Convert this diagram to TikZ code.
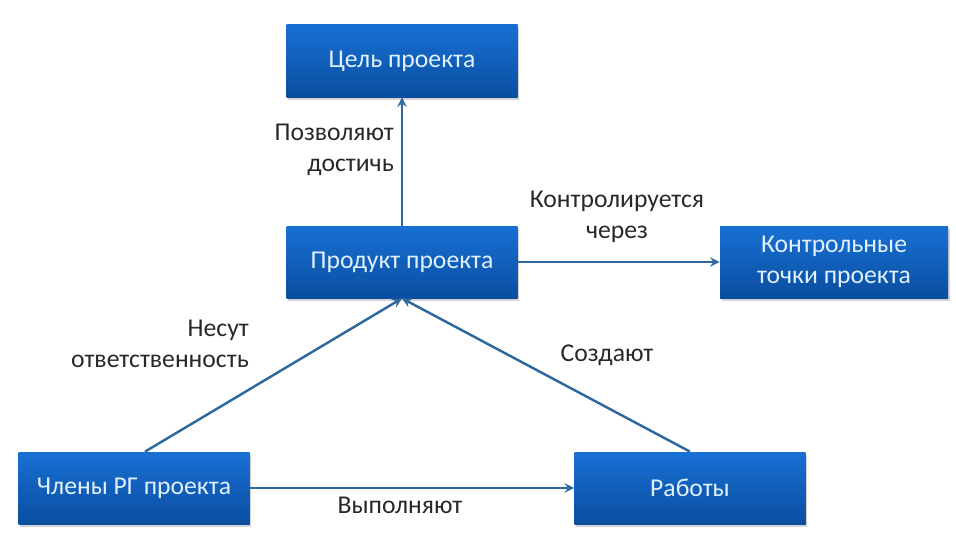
\documentclass[tikz,border=0pt]{standalone}
\usepackage{fontspec}
\setmainfont{Carlito}
\usetikzlibrary{shadows}
\definecolor{boxtop}{RGB}{24,112,212}
\definecolor{boxbot}{RGB}{10,78,160}
\definecolor{boxtext}{RGB}{225,240,255}
\definecolor{linkblue}{RGB}{46,104,156}
\definecolor{lbltext}{RGB}{40,40,40}

\begin{document}
\begin{tikzpicture}[
	box/.style={draw=none, rectangle, top color=boxtop, bottom color=boxbot, text=boxtext, minimum width=4.62cm, minimum height=1.44cm, align=center, font=\fontsize{14.6}{17.5}\selectfont, drop shadow={shadow xshift=1pt, shadow yshift=-1.5pt, opacity=0.35}},
	lbl/.style={text=lbltext, font=\fontsize{14.6}{17.5}\selectfont},
	link/.style={->, >=stealth, draw=linkblue, line width=1.4pt}]
					\useasboundingbox (0,0) rectangle (19.12,10.7);
					\node[box] (goal)at(8.04, 9.48) {Цель проекта};
					\node[box] (product)at(8.04, 5.46) {Продукт проекта};
					\node[box, minimum width=4.56cm] (points)at(16.68, 5.46) {Контрольные\\точки проекта};
					\node[box] (members)at(2.68, 0.94) {Члены РГ проекта};
					\node[box] (works)at(13.8, 0.94) {Работы};
					\draw[link] (product) -- (goal);
					\draw[link] (product) -- (points);
					\draw[link] ([xshift=0.22cm]members.north) -- (product.south);
					\draw[link] (works.north) -- (product.south);
					\draw[link] (members) -- (works);
					\node[lbl, anchor=east, align=right] (l1)at(8.0, 7.7) {Позволяют\\достичь};
					\node[lbl, align=center] (l2)at(12.34, 6.36) {Контролируется\\через};
					\node[lbl, anchor=east, align=right] (l3)at(5.1, 3.82) {Несут\\ответственность};
					\node[lbl] (l4)at(12.14, 3.6) {Создают};
					\node[lbl] (l5)at(8.0, 0.6) {Выполняют};
				\end{tikzpicture}
\end{document}
